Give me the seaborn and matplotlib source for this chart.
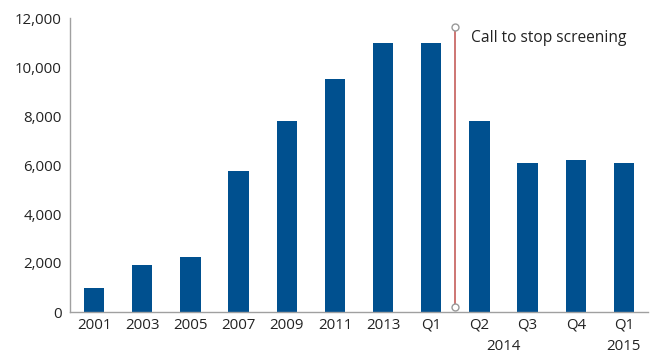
import matplotlib
matplotlib.use("Agg")
import matplotlib.pyplot as plt
import seaborn as sns
import pandas as pd
import numpy as np
from matplotlib.ticker import FuncFormatter, FixedLocator

categories = ["2001", "2003", "2005", "2007", "2009", "2011", "2013", "Q1", "Q2", "Q3", "Q4", "Q1 "]
values = [1000, 1900, 2250, 5750, 7800, 9500, 11000, 11000, 7800, 6100, 6200, 6100]
tick_labels = ["2001", "2003", "2005", "2007", "2009", "2011", "2013", "Q1", "Q2", "Q3", "Q4", "Q1"]
year_groups = [("2014", 7, 10), ("2015", 11, 11)]
annotation_text = "Call to stop screening"
line_top, line_bottom = 11650, 200

sns.set_style("white")
plt.rcParams["font.family"] = ["Open Sans", "DejaVu Sans"]

df = pd.DataFrame({"cat": categories, "val": values})
fig = plt.figure(figsize=(6.54, 3.56), dpi=100)
ax = fig.add_axes([70/654, 1 - 312/356, (648-70)/654, (312-18)/356])

sns.barplot(data=df, x="cat", y="val", color="#00508f", saturation=1, width=0.42, ax=ax)
for p in ax.patches:
    p.set_edgecolor("none")

ax.set_xlim(-0.5, len(categories) - 0.5)
ax.set_ylim(0, 12000)
ax.set_yticks(np.arange(0, 12001, 2000))
ax.yaxis.set_major_formatter(FuncFormatter(lambda v, p: f"{int(v):,}"))
ax.set_xticks(range(len(categories)))
ax.set_xticklabels(tick_labels)
ax.xaxis.set_minor_locator(FixedLocator(np.arange(-0.5, len(categories), 1)))
ax.tick_params(axis="x", which="major", length=0, labelsize=10.8, colors="#222222", pad=4)
ax.tick_params(axis="x", which="minor", length=4, color="#a0a0a0", width=1, direction="out")
ax.tick_params(axis="y", length=4, color="#a0a0a0", width=1, direction="out", labelsize=10.8, labelcolor="#222222", pad=2)
ax.set_xlabel("")
ax.set_ylabel("")
for s in ["top", "right"]:
    ax.spines[s].set_visible(False)
for s in ["left", "bottom"]:
    ax.spines[s].set_color("#a0a0a0")
    ax.spines[s].set_linewidth(1)

# group year labels
for label, i0, i1 in year_groups:
    ax.text((i0 + i1) / 2, -0.093, label, transform=ax.get_xaxis_transform(),
            ha="center", va="top", fontsize=10.8, color="#222222")

# annotation line
xl = 7.5
ax.plot([xl, xl], [line_bottom, line_top], color="#c0504d", lw=1.1, zorder=3)
ax.plot([xl, xl], [line_bottom, line_top], linestyle="none", marker="o", ms=5,
        mfc="white", mec="#999999", mew=1, zorder=4)
ax.text(xl + 0.33, 11200, annotation_text, ha="left", va="center", fontsize=11.2, color="#222222")

fig.savefig("out.png", dpi=100)
